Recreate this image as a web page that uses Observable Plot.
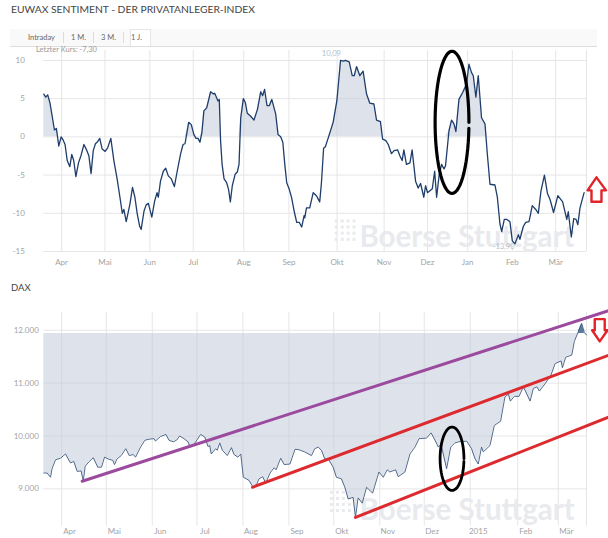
<!DOCTYPE html>
<html><head><meta charset="utf-8">
<script src="https://cdn.jsdelivr.net/npm/d3@7"></script>
<script src="https://cdn.jsdelivr.net/npm/@observablehq/plot@0.6"></script>
<style>
html,body{margin:0;padding:0;background:#fff;width:608px;height:538px;overflow:hidden}
#w{position:relative;width:608px;height:538px;font-family:Lato,"Open Sans",sans-serif}
.title{position:absolute;left:11px;color:#444;font-size:10.3px;line-height:14px;white-space:nowrap}
#tabs{position:absolute;left:10px;top:29px;width:587px;height:17px;background:#f9f9f9;border-bottom:1px solid #ddd}
#tabs span{position:absolute;top:3px;font-size:7.5px;line-height:11px;color:#666}
#tabs i{position:absolute;top:3px;height:11px;width:1px;background:#ddd}
#active{position:absolute;left:120px;top:0;width:21px;height:17px;background:#fff;border:1px solid #e6e6e6;border-bottom:0;box-sizing:border-box}
#last{position:absolute;left:36px;top:45px;font-size:7.5px;line-height:10px;color:#999;z-index:3;white-space:nowrap}
svg{position:absolute;left:0;overflow:visible}
</style></head><body>
<div id="w">
<div class="title" style="top:2px">EUWAX SENTIMENT - DER PRIVATANLEGER-INDEX</div>
<div id="tabs"><div id="active"></div>
<span style="left:18px">Intraday</span><i style="left:53px"></i>
<span style="left:61px">1 M.</span><i style="left:83px"></i>
<span style="left:91px">3 M.</span><i style="left:113px"></i>
<span style="left:121px">1 J.</span></div>
<div id="last">Letzter Kurs: -7,30</div>
<div class="title" style="top:281px;font-size:9.5px">DAX</div>
</div>
<script>
const euwaxSessions=[0,0.9,1.8,2.8,3.8,4.9,5.8,6.9,8,8.9,9.8,10.8,12,12.9,13.8,14.8,16,17.2,18.5,19.7,20.8,21.8,22.8,23.8,24.9,25.8,26.9,28.3,29.5,30.9,32.3,33.8,35.1,36.2,36.9,38,39.7,40.9,42,43.1,44.2,44.9,46.2,47.2,48.2,48.9,49.8,51.1,52.2,52.8,53.8,55.1,56.2,57.4,58.8,60.2,61.5,63.1,64.2,65.1,66.8,68,69.2,70.2,71.1,72,72.9,73.8,75.1,76.9,78.2,78.8,80.3,80.9,81.5,82.2,83.1,84.3,85.2,86,86.9,88.2,89.2,90,90.8,92,92.9,93.8,95.4,96.9,98.5,100,100.9,101.8,102.9,104,105.1,106.9,108,109.2,110.2,111.1,112,113.2,114.2,115.4,116.6,117.8,118.9,120,120.3,121.1,122.6,124.2,125.7,127.2,128,129,129.8,131.4,133.4,135.1,136.8,138,139.1,140.8,142.2,143.1,144.2,145.7,147.2,148.8,150.3,152.2,153.4,155.2,156.2,157.7,158.8,160.3,161.5,163.1,164.2,165.2,166,167.2,168.8,169.8,171.4,172.6,173.7,175.2,176,176.9,179.1,180.2,181.1,182.3,183.4,184.5,185.2,186.8,188,189.1,190,191.4,193.1,194.9,196,197.2,198,199.2,200.3,201.8,203.4,204.5,205.7,208,209.1,210.3,211.1,212.3,213.5,214.9,216,217.2,218.8,219.5,221.1,222.2,223.7,225.2,226.8,228,229.2,230.8,232.2,233.4,235,237,239.2,241.1,241.8,243.2,244.3,245.4,246.2,247.2,249.1];
const euwaxValues=[5.6,5.2,5.5,4.5,2.8,0.9,1.1,-1.2,0,-0.4,-1,-3.1,-3.9,-2.3,-3.1,-5.2,-3.4,-2.4,-1,-1.7,-2.5,-4.8,-1.8,-0.9,-0.6,-0.2,-1.6,-1.9,-1.4,-0.2,-3.1,-5.5,-7.9,-10,-9.5,-11.1,-8.8,-6.6,-7.9,-10.1,-11.7,-12.1,-9.7,-8.9,-8.7,-9.5,-10.5,-8.4,-7.3,-7.9,-5.8,-4.5,-4.1,-5.1,-5.5,-6.5,-4.5,-2.2,-1,-0.9,1.9,1.6,0.3,-0.2,-0.2,-0.7,0.6,3.4,3.8,5.9,5.6,5.7,4.7,4.9,-0.5,-3.6,-5.5,-6,-6.9,-8.5,-6.4,-4.9,-4.6,-3.6,2.5,5,4.5,3.1,2.7,2.2,3.6,5.9,5.4,6.2,4.1,4.1,4.9,3,0.3,0,-0.7,-3.6,-6,-6.9,-7.9,-9.7,-11.2,-11.2,-11.8,-10.3,-10.6,-9.3,-9.3,-7.3,-7.7,-8.5,-6,-1.5,-1.3,0.1,1.9,4.7,10,9.9,10,9.8,8,8,9.2,8,8.6,5.6,4.4,4.3,2.2,2,-0.3,-0.5,-1,-2.2,-1.8,-1.7,-2.5,-3.1,-1.7,-3.6,-3.4,-1.7,-5.8,-6.7,-6.1,-7.9,-6.4,-7.3,-6.8,-4.5,-7.9,-4.9,-3.6,-4.2,-3.8,0.8,2.2,1.7,0.7,4.9,5.8,6.9,9.5,8.4,8,5.2,8,2.5,1.7,-2.3,-6.2,-6.3,-7.9,-11.4,-12.4,-10.8,-10.8,-11.1,-13.6,-14,-12.8,-13.4,-11.7,-11.2,-11.1,-9,-9.5,-10,-7.1,-5,-7.4,-8.2,-9.9,-7.7,-8.5,-10.8,-9.8,-13.1,-10.7,-10.8,-11.5,-9.3,-7.3];
const daxSessions=[0,1.5,3.1,3.8,5.4,7.7,10,12.3,13.8,15.4,17.2,18.2,19.1,20.8,22.8,24.9,26.6,28,30,31.8,32.6,33.8,35.7,37.8,39.4,41.2,42.3,44.6,46.6,48.5,50.8,51.5,53.8,56.3,57.7,59.7,61.2,62.6,64.6,66.5,67.4,69.2,72.3,74.2,75.7,76.5,77.2,79.2,80,81.1,82.3,84.6,86.5,87.7,89.5,90.8,92,94.6,96.5,98.2,99.2,100.9,102.3,104.3,106.2,107.1,109.2,110.8,113.5,115.8,117.7,120.2,123.4,124.9,126.5,128,129.5,131.1,133.4,134.9,137.2,138.8,140.3,142.6,143.7,144.9,146.8,148.8,151.6,154.5,156.5,158.3,159.5,162.2,163.4,166.5,168.8,171.1,173,176.5,178.5,180,181.9,183.1,185.7,187.6,189.5,192.3,195,197.2,198.8,200.3,201.8,202.6,205.7,207.7,210.6,212.6,214.2,215.1,216.9,219.1,221.1,224.2,225.7,227.3,228.5,231.1,233.8,235.7,238.5,239.1,240.6,243.4,244.6,246.5,248,249.2,250.2];
const daxValues=[9300,9300,9220,9380,9550,9580,9660,9490,9520,9330,9340,9150,9430,9510,9590,9410,9410,9600,9560,9540,9460,9570,9630,9760,9630,9650,9600,9790,9920,9940,9950,9905,9990,10030,9920,9890,9920,10000,9950,9890,9790,9840,10030,9980,9800,9820,9660,9760,9730,9870,9730,9630,9780,9650,9600,9660,9220,9160,9030,9090,9190,9230,9110,9300,9400,9360,9580,9460,9470,9750,9740,9700,9630,9760,9790,9730,9570,9570,9410,9220,9190,9030,8810,8840,8460,8830,8730,9030,8920,9320,9220,9360,9320,9360,9230,9320,9660,9790,9950,9960,10060,9950,9790,9850,9380,9790,9870,9900,9900,9760,9570,9470,9790,9700,9820,10200,10280,10740,10790,10660,10750,10750,10930,10660,10900,10930,10850,10990,11150,11370,11420,11290,11490,11530,11790,11980,12130,11960,11910];

const euwaxTickSessions=[8.2,28.2,48.9,68.9,92.2,113,135.2,156.9,176.9,195.4,216,236];
const euwaxTickLabels=["Apr","Mai","Jun","Jul","Aug","Sep","Okt","Nov","Dez","Jan","Feb","Mär"];
const daxTickSessions=[8.2,28.8,50,70.6,91.8,113,133.7,154.9,175.4,196.6,218.5,237.2];
const daxTickLabels=["Apr","Mai","Jun","Jul","Aug","Sep","Okt","Nov","Dez","2015","Feb","Mär"];
const euwaxYTicks=[10,5,0,-5,-10,-15];
const daxYTicks=[12000,11000,10000,9000];

const euwaxExtremes=[{x:132.6,y:10.9,t:"10,09"},{x:212,y:-14.3,t:"-13,90"}];
const daxBase=11940;
const purpleTrend=[{x:17.7,y:9145},{x:260.6,y:12374}];
const redTrendUpper=[{x:96.2,y:9030},{x:260.6,y:11530}];
const redTrendLower=[{x:143.7,y:8460},{x:260.6,y:10360}];
const arrowUp=[[254.8,-5.3],[259.2,-7],[257.1,-7],[257.1,-8.5],[252.5,-8.5],[252.5,-7],[250.7,-7],[254.8,-5.3]];
const arrowDown=[[254,12210],[258.6,12210],[258.6,12000],[259.9,12000],[256.3,11790],[252.8,12000],[254,12000],[254,12210]];

const euwax=euwaxSessions.map((x,i)=>({x,y:euwaxValues[i]}));
const dax=daxSessions.map((x,i)=>({x,y:daxValues[i]}));
const ring=(cx,cy,rx,ry)=>d3.range(0,6.3,0.1).map(a=>({x:cx+rx*Math.cos(a),y:cy+ry*Math.sin(a)}));
const GRID="#e6e6e6",FILL="#c3ccda",MARK="#e8eaee";
const grid=(xt,yt)=>[
  Plot.ruleX(xt,{stroke:GRID}),
  Plot.ruleX([250.2],{stroke:GRID}),
  Plot.ruleY(yt,{stroke:GRID})
];
const mark=(xs,ys,x,y)=>[
  Plot.dot(d3.cross(xs,ys),{x:d=>d[0],y:d=>d[1],symbol:"square",r:1.7,fill:MARK}),
  Plot.text(["Boerse Stuttgart"],{x:()=>x,y:()=>y,textAnchor:"start",fontSize:29.5,fontWeight:"bold",fill:MARK,fontFamily:"Lato,sans-serif"})
];
const common={width:608,marginLeft:43.3,marginRight:22,style:{fontFamily:"Lato,'Open Sans',sans-serif",fontSize:"8px",color:"#999",background:"transparent"}};
const axes=(xt,xl,dx,pad,ypad,yf,yt)=>[
  Plot.axisX({ticks:xt,tickFormat:(d,i)=>xl[xt.indexOf(d)],tickSize:0,tickPadding:pad,dx,label:null,fill:"#a3a3a3"}),
  Plot.axisY({ticks:yt,tickFormat:yf,tickSize:0,tickPadding:ypad,label:null,fill:"#a3a3a3"})
];

const upperChart=Plot.plot({...common,height:223,marginTop:3,marginBottom:19,
  x:{domain:[0,250.2]},y:{domain:[-15,11.3]},
  marks:[
    ...grid(euwaxTickSessions,euwaxYTicks),
    ...mark([134.8,137.6,140.3,143],[-11,-11.8,-12.6,-13.4],145.5,-13.2),
    Plot.areaY(euwax,{x:"x",y1:0,y2:d=>Math.max(d.y,0),fill:FILL,fillOpacity:0.55}),
    Plot.line(euwax,{x:"x",y:"y",stroke:"#1f3d6b",strokeWidth:1.3}),
    Plot.text(euwaxExtremes,{x:"x",y:"y",text:"t",fill:"#b0bfd3",fontSize:7.5}),
    Plot.line(ring(188.2,1.9,7.8,9.3),{x:"x",y:"y",stroke:"#000",strokeWidth:3.2}),
    Plot.line(arrowUp,{x:d=>d[0],y:d=>d[1],stroke:"#e0242a",strokeWidth:2.4}),
    ...axes(euwaxTickSessions,euwaxTickLabels,0,7.5,19,d=>String(d),euwaxYTicks)
  ]});
upperChart.style.top="47px";
const lowerChart=Plot.plot({...common,height:228,marginTop:2,marginBottom:12.3,
  x:{domain:[0,250.2]},y:{domain:[8294,12336]},
  marks:[
    ...grid(daxTickSessions,daxYTicks),
    ...mark([132.6,135.4,138.1,140.9],[8936,8820,8705,8590],145.6,8589),
    Plot.areaY(dax,{x:"x",y1:daxBase,y2:d=>Math.min(d.y,daxBase),fill:FILL,fillOpacity:0.55}),
    Plot.areaY(dax.filter(d=>d.y>=daxBase),{x:"x",y1:daxBase,y2:"y",fill:"#5a7aa0"}),
    Plot.line(dax,{x:"x",y:"y",stroke:"#3f5a80",strokeWidth:0.9}),
    Plot.line(purpleTrend,{x:"x",y:"y",stroke:"#9b4a9e",strokeWidth:3}),
    Plot.line(redTrendUpper,{x:"x",y:"y",stroke:"#dc2a2e",strokeWidth:3}),
    Plot.line(redTrendLower,{x:"x",y:"y",stroke:"#dc2a2e",strokeWidth:3}),
    Plot.line(ring(188.2,9570,5.5,600),{x:"x",y:"y",stroke:"#000",strokeWidth:2.8}),
    Plot.line(arrowDown,{x:d=>d[0],y:d=>d[1],stroke:"#e0242a",strokeWidth:2.4}),
    ...axes(daxTickSessions,daxTickLabels,8,2,5,d=>d3.format(",")(d).replace(",","."),daxYTicks)
  ]});
lowerChart.style.top="310px";
const w=document.getElementById("w");
w.appendChild(upperChart);w.appendChild(lowerChart);
</script>
</body></html>
